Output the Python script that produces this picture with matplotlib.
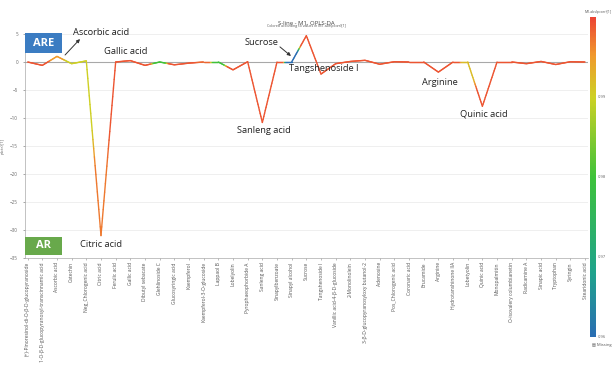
import numpy as np
import matplotlib
matplotlib.use("Agg")
import matplotlib.pyplot as plt
from matplotlib.collections import LineCollection
from matplotlib.colors import LinearSegmentedColormap, Normalize
from matplotlib.patches import Rectangle

plt.rcParams['font.family'] = ['Open Sans', 'DejaVu Sans']

# variables along the x axis
compounds = [
    "(+)-Pinoresinol-di-O-\u03b2-D-glucopyranoside",
    "1-O-\u03b2-D-glucopyranosyl-transcinnamic acid",
    "Ascorbic acid", "Catechin", "Neg_Chlorogenic acid", "Citric acid",
    "Ferulic acid", "Gallic acid", "Dibutyl sebacate", "Glehlinoside C",
    "Glucosyringic acid", "Kaempferol", "Kaempferol-3-O-glucoside",
    "Lappaol B", "Lobelyolin", "Pyrophaeophorbide A", "Sanleng acid",
    "Sinapylbenzoate", "Sinapyl alcohol", "Sucrose", "Tangshenoside I",
    "Vanillic acid-4-\u03b2-D-glucoside", "2-Monolinolein",
    "3-\u03b2-D-glucopyranosyloxy butanol-2", "Adenosine",
    "Pos_Chlorogenic acid", "Coronaric acid", "Erucamide", "Arginine",
    "Hydrotanshinone IIA", "Lobetyolin", "Quinic acid", "Monopalmitin",
    "O-isovalery columbianetin", "Radicamine A", "Sinapic acid",
    "Tryptophan", "Syringin", "Stearidonic acid",
]

# p(ctr)[1] values
p_ctr = [0.0, -0.6, 1.0, -0.3, 0.2, -31.0, 0.0, 0.25, -0.6, 0.0,
         -0.5, -0.2, 0.0, 0.0, -1.4, 0.05, -10.8, 0.0, 0.0, 4.7,
         -2.15, -0.3, 0.1, 0.3, -0.4, 0.05, 0.0, 0.0, -1.8, 0.0,
         0.0, -7.9, 0.0, 0.0, -0.3, 0.1, -0.45, 0.05, 0.0]

# abs(pcorr)[1] values used for colouring
abs_pcorr = [0.999, 0.999, 0.995, 0.99, 0.99, 0.997, 0.999, 0.999, 0.999, 0.98,
             0.999, 0.999, 0.998, 0.98, 0.999, 0.999, 0.999, 0.999, 0.958, 0.999,
             0.999, 0.999, 0.999, 0.999, 0.999, 0.999, 0.999, 0.999, 0.999, 0.999,
             0.992, 0.999, 0.999, 0.999, 0.999, 0.999, 0.999, 0.999, 0.999]

cmap = LinearSegmentedColormap.from_list("sline", [
    (0.0, "#2a6db3"), (0.2, "#1fa38c"), (0.5, "#3ec23a"),
    (0.75, "#cdd124"), (0.88, "#f09a2c"), (1.0, "#ec4434")])
norm = Normalize(0.96, 1.0)

fig = plt.figure(figsize=(6.14, 3.81), dpi=100)
ax = fig.add_axes([25/614, 1-258/381, 563/614, 224/381])

x = np.arange(len(compounds))
y = np.array(p_ctr)
c = np.array(abs_pcorr)

ax.axhline(0, color="#a8a8a8", lw=0.8, zorder=1)
for v in range(-35, 6, 5):
    if v != 0:
        ax.axhline(v, color="#ececec", lw=0.6, zorder=0)

# each half of a segment takes the colour of its nearest point,
# with a short blend around the middle
segs, cols = [], []
n = 20
for i in range(len(x) - 1):
    t = np.linspace(0, 1, n + 1)
    xs = x[i] + (x[i+1] - x[i]) * t
    ys = y[i] + (y[i+1] - y[i]) * t
    w = np.clip((t - 0.4) / 0.2, 0, 1)
    cs = c[i] + (c[i+1] - c[i]) * w
    for k in range(n):
        segs.append([(xs[k], ys[k]), (xs[k+1], ys[k+1])])
        cols.append((cs[k] + cs[k+1]) / 2)
lc = LineCollection(segs, cmap=cmap, norm=norm, linewidths=1.0, zorder=2,
                    capstyle="round")
lc.set_array(np.array(cols))
ax.add_collection(lc)

ax.set_xlim(-0.18, 38.2)
ax.set_ylim(-35, 5)
ax.set_xticks(x)
ax.set_xticklabels(compounds, rotation=90, fontsize=3.6, color="#555555")
ax.set_yticks(range(-35, 6, 5))
ax.tick_params(axis="y", labelsize=3.3, colors="#666666", length=1.5, width=0.4)
ax.tick_params(axis="x", length=1.5, width=0.4, colors="#888888", pad=1.5)
for lbl in ax.get_xticklabels():
    lbl.set_color("#555555")
for s in ["top", "right"]:
    ax.spines[s].set_visible(False)
for s in ["left", "bottom"]:
    ax.spines[s].set_color("#aaaaaa")
    ax.spines[s].set_linewidth(0.5)
ax.set_ylabel("p(ctr)[1]", fontsize=3.2, color="#666666", labelpad=4)

ax.set_title("S-line - M1, OPLS-DA", fontsize=4.3, color="#444444", pad=7)
ax.text(0.5, 1.025, "Colored according to values in M1.abs(pcorr)[1]",
        transform=ax.transAxes, ha="center", va="bottom", fontsize=2.6,
        color="#555555")

# compound annotations
fs = 6.7
tc = "#222222"
ax.text(3.1, 5.2, "Ascorbic acid", fontsize=fs, ha="left", va="center", color=tc)
ax.annotate("", xy=(3.57, 4.1), xytext=(2.55, 1.25),
            arrowprops=dict(arrowstyle="-|>", color="#333333", lw=0.7,
                            mutation_scale=5, shrinkA=0, shrinkB=0))
ax.text(5.2, 1.8, "Gallic acid", fontsize=fs, ha="left", va="center", color=tc)
ax.text(3.6, -32.5, "Citric acid", fontsize=fs, ha="left", va="center", color=tc)
ax.text(14.3, -12.3, "Sanleng acid", fontsize=fs, ha="left", va="center", color=tc)
ax.text(17.1, 3.4, "Sucrose", fontsize=fs, ha="right", va="center", color=tc)
ax.annotate("", xy=(17.95, 1.07), xytext=(17.2, 2.7),
            arrowprops=dict(arrowstyle="-|>", color="#333333", lw=0.7,
                            mutation_scale=5, shrinkA=0, shrinkB=0))
ax.text(17.8, -1.1, "Tangshenoside I", fontsize=fs, ha="left", va="center", color=tc)
ax.text(26.9, -3.6, "Arginine", fontsize=fs, ha="left", va="center", color=tc)
ax.text(29.5, -9.2, "Quinic acid", fontsize=fs, ha="left", va="center", color=tc)

# group boxes
ax.add_patch(Rectangle((-0.18, 1.6), 2.52, 3.55, fc="#3b7cc2", ec="none",
                       clip_on=False, zorder=4))
ax.text(1.08, 3.38, "ARE", fontsize=8, fontweight="bold", color="white",
        ha="center", va="center", zorder=5)
ax.add_patch(Rectangle((-0.18, -34.5), 2.52, 3.3, fc="#68a94b", ec="none",
                       clip_on=False, zorder=4))
ax.text(1.08, -32.85, "AR", fontsize=8, fontweight="bold", color="white",
        ha="center", va="center", zorder=5)

# colour bar
cax = fig.add_axes([590/614, 1-337/381, 6/614, 320/381])
sm = plt.cm.ScalarMappable(norm=norm, cmap=cmap)
cb = fig.colorbar(sm, cax=cax, ticks=[0.96, 0.97, 0.98, 0.99])
cb.outline.set_visible(False)
cb.ax.tick_params(labelsize=3, length=0, colors="#666666", pad=1)
cb.ax.set_yticklabels(["0.96", "0.97", "0.98", "0.99"])
fig.text(612/614, 1-14/381, "M1.abs(pcorr)[1]", fontsize=2.5, color="#555555",
         ha="right", va="bottom")
fig.text(592/614, 1-345/381, "\u25a4 Missing", fontsize=3, color="#555555",
         ha="left", va="center")

fig.savefig("out.png", dpi=100)
